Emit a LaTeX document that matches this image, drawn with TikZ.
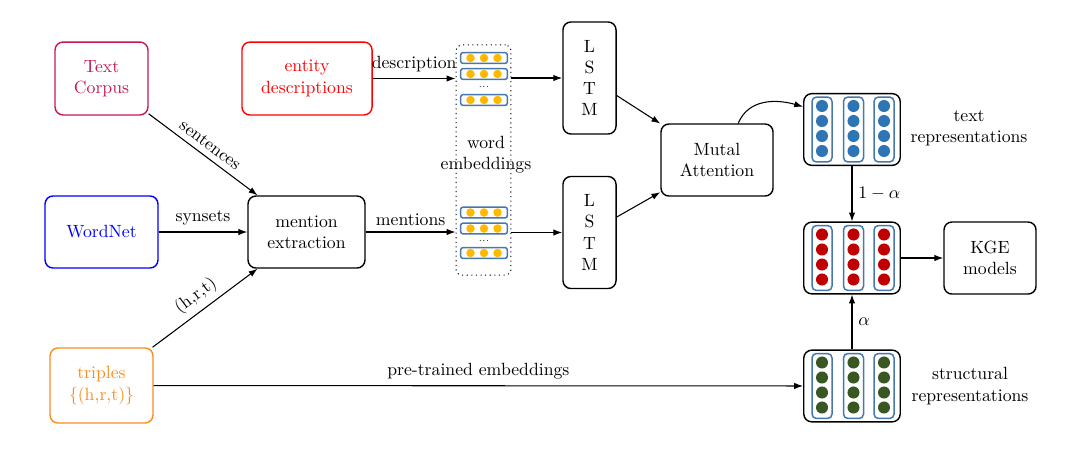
\documentclass[tikz,border=0pt]{standalone}
\usetikzlibrary{arrows.meta,calc}
\definecolor{tcpurple}{RGB}{195,25,85}
\definecolor{myorange}{RGB}{250,140,30}
\definecolor{rowblue}{RGB}{70,120,175}
\definecolor{gold}{RGB}{255,185,0}
\definecolor{dotblue}{RGB}{46,117,182}
\definecolor{dotred}{RGB}{192,0,0}
\definecolor{dotgreen}{RGB}{56,87,35}
\newcommand\myemb[2]{%
  \node[erow] (#1) at (484,#2) {};
  \foreach \dx/\k in {-13.5/a,0/b,13.5/c}
    \fill[gold] ($(#1)+(\dx,0)$) circle (2.4pt);
}
\newcommand\myrep[2]{%
  \foreach \dx/\k in {-30/a,1.5/b,32/c}{%
    \node[rcol] (#1\k) at ($(#1)+(\dx,0)$) {};
    \foreach \dy in {-22.5,-7.5,7.5,22.5}
      \fill[#2] ($(#1)+(\dx,\dy-1)$) circle (3.4pt);
  }%
}
\begin{document}
\begin{tikzpicture}[x=0.565pt,y=-0.565pt,
  box/.style={draw,thick,rounded corners=4.5pt,align=center,inner sep=1pt},
  arr/.style={-{Latex[length=5pt,width=3.6pt]},semithick},
  erow/.style={draw=rowblue,line width=0.85pt,rounded corners=1.5pt,minimum width=26.5pt,minimum height=6.2pt,inner sep=0pt},
  rcol/.style={draw=rowblue,line width=0.85pt,rounded corners=2.5pt,minimum width=11.3pt,minimum height=36.7pt,inner sep=0pt}]
\useasboundingbox (0,0) rectangle (1080,459);

% source boxes
\node[box,draw=tcpurple,text=tcpurple,minimum width=52.5pt,minimum height=41.2pt] (tc) at (101.5,78.5) {Text\\Corpus};
\node[box,draw=red,text=red,minimum width=73.5pt,minimum height=41.2pt] (ed) at (307,78.5) {entity\\descriptions};
\node[box,draw=blue,text=blue,minimum width=63.8pt,minimum height=40.7pt] (wn) at (101.5,232) {WordNet};
\node[box,minimum width=66.1pt,minimum height=40.7pt] (me) at (306.5,232) {mention\\extraction};
\node[box,draw=myorange,text=myorange,minimum width=58.2pt,minimum height=42.4pt] (tr) at (101.5,385.5) {triples\\$\{$(h,r,t)$\}$};

% word embeddings
\node[draw,dotted,semithick,rounded corners=3pt,minimum width=31pt,minimum height=130pt,inner sep=0pt] (we) at (483.5,160) {};
\node[align=center] (wel) at (486,155) {word\\embeddings};
\myemb{e1}{58}
\myemb{e2}{74}
\node[inner sep=0pt] (dots1) at (484,87) {\tiny ...};
\myemb{e3}{100}
\myemb{e4}{212.5}
\myemb{e5}{228.5}
\node[inner sep=0pt] (dots2) at (484,241) {\tiny ...};
\myemb{e6}{253}

% LSTMs and attention
\node[box,minimum width=30pt,minimum height=63.3pt] (lstm1) at (589.5,78) {L\\S\\T\\M};
\node[box,minimum width=30pt,minimum height=63.3pt] (lstm2) at (589.5,232.5) {L\\S\\T\\M};
\node[box,minimum width=63.3pt,minimum height=40.7pt] (mut) at (717,160) {Mutal\\Attention};

% representations
\node[box,minimum width=54.5pt,minimum height=40.5pt] (trep) at (852,129.5) {};
\myrep{trep}{dotblue}
\node[box,minimum width=54.5pt,minimum height=40.5pt] (mix) at (852,258) {};
\myrep{mix}{dotred}
\node[box,minimum width=54.5pt,minimum height=40.5pt] (srep) at (852,386) {};
\myrep{srep}{dotgreen}
\node[box,minimum width=52pt,minimum height=40.7pt] (kge) at (990,258) {KGE\\models};
\node[align=center] (trl) at (969,128) {text\\representations};
\node[align=center] (srl) at (970,386) {structural\\representations};

% connectors
\draw[arr] (ed) -- (ed -| we.west) node[midway,above] {description};
\draw[arr] (we.east |- lstm1) -- (lstm1);
\draw[arr] (tc) -- (me) node[midway,above,sloped] {sentences};
\draw[arr] (wn) -- (me) node[midway,above] {synsets};
\draw[arr] (tr) -- (me) node[midway,above,sloped] {(h,r,t)};
\draw[arr] (me) -- (me -| we.west) node[midway,above] {mentions};
\draw[arr] (we.east |- lstm2) -- (lstm2);
\draw[arr] (lstm1) -- (mut);
\draw[arr] (lstm2) -- (mut);
\draw[arr] (mut.60) .. controls +(10,-24) and +(-28,-8) .. (trep.155);
\draw[arr] (trep) -- (mix) node[midway,right] {$1-\alpha$};
\draw[arr] (srep) -- (mix) node[midway,right] {$\alpha$};
\draw[arr] (mix) -- (kge);
\draw[arr] (tr) -- (srep) node[midway,above] {pre-trained embeddings};
\end{tikzpicture}
\end{document}
